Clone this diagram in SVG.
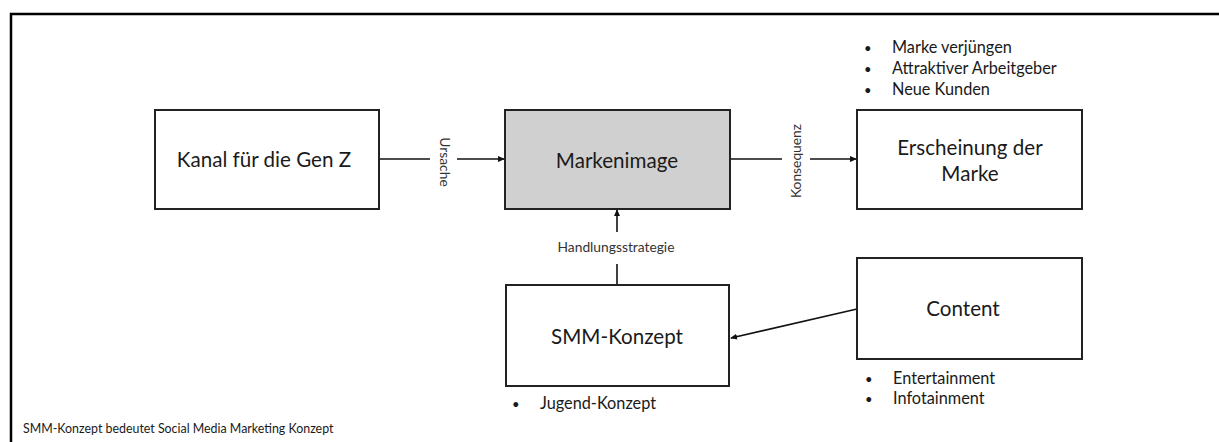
<svg xmlns="http://www.w3.org/2000/svg" width="1219" height="442" viewBox="0 0 1219 442">
<style>
.box{fill:#fff;stroke:#222;stroke-width:2}
.main{fill:#d0d0d0}
.t{font-family:Lato,"Liberation Sans",sans-serif;fill:#1a1a1a}
.big{font-size:20.6px;text-anchor:middle}
.lbl{font-size:13.8px;text-anchor:middle;fill:#333}
.li{font-size:16.3px}
.dot{font-size:13px}
.line{stroke:#111;stroke-width:1.6;fill:none}
</style>
<defs>
<marker id="ah" viewBox="0 0 8 8" refX="7" refY="4" markerWidth="7" markerHeight="7" markerUnits="userSpaceOnUse" orient="auto">
<path d="M0,0.5 L8,4 L0,7.5 Z" fill="#111"/>
</marker>
</defs>
<rect width="1219" height="442" fill="#fff"/>
<path d="M11,442 V14 H1219" fill="none" stroke="#000" stroke-width="2.5"/>
<g id="connectors">
<line class="line" x1="379" y1="159" x2="430" y2="159"/>
<line class="line" x1="457" y1="159" x2="504" y2="159" marker-end="url(#ah)"/>
<line class="line" x1="730" y1="159" x2="782" y2="159"/>
<line class="line" x1="810" y1="159" x2="856" y2="159" marker-end="url(#ah)"/>
<line class="line" x1="617" y1="285" x2="617" y2="264"/>
<line class="line" x1="617" y1="232" x2="617" y2="210" marker-end="url(#ah)"/>
<line class="line" x1="857" y1="309" x2="731" y2="338" marker-end="url(#ah)"/>
<text class="t lbl" transform="translate(440,162) rotate(90)">Ursache</text>
<text class="t lbl" transform="translate(801,161) rotate(-90)">Konsequenz</text>
<text class="t lbl" x="616" y="252">Handlungsstrategie</text>
</g>
<g id="kanal">
<rect class="box" x="155" y="110" width="224" height="99"/>
<text class="t big" x="264" y="167">Kanal für die Gen Z</text>
</g>
<g id="markenimage">
<rect class="box main" x="505" y="110" width="225" height="99"/>
<text class="t big" x="617" y="168">Markenimage</text>
</g>
<g id="erscheinung">
<rect class="box" x="857" y="110" width="225" height="99"/>
<text class="t big" x="970" y="155">Erscheinung der</text>
<text class="t big" x="970" y="181">Marke</text>
</g>
<g id="smm">
<rect class="box" x="506" y="285" width="223" height="101"/>
<text class="t big" x="617" y="344">SMM-Konzept</text>
</g>
<g id="content">
<rect class="box" x="857" y="258" width="225" height="101"/>
<text class="t big" x="963" y="316">Content</text>
</g>
<g id="notes">
<text class="t dot" x="864" y="53">•</text><text class="t li" x="892" y="53">Marke verjüngen</text>
<text class="t dot" x="864" y="74">•</text><text class="t li" x="892" y="74">Attraktiver Arbeitgeber</text>
<text class="t dot" x="864" y="95">•</text><text class="t li" x="892" y="95">Neue Kunden</text>
<text class="t dot" x="865" y="384">•</text><text class="t li" x="893" y="384">Entertainment</text>
<text class="t dot" x="865" y="404">•</text><text class="t li" x="893" y="404">Infotainment</text>
<text class="t dot" x="512" y="409">•</text><text class="t li" x="540" y="409">Jugend-Konzept</text>
<text class="t" x="23" y="433" font-size="12.4">SMM-Konzept bedeutet Social Media Marketing Konzept</text>
</g>
</svg>
